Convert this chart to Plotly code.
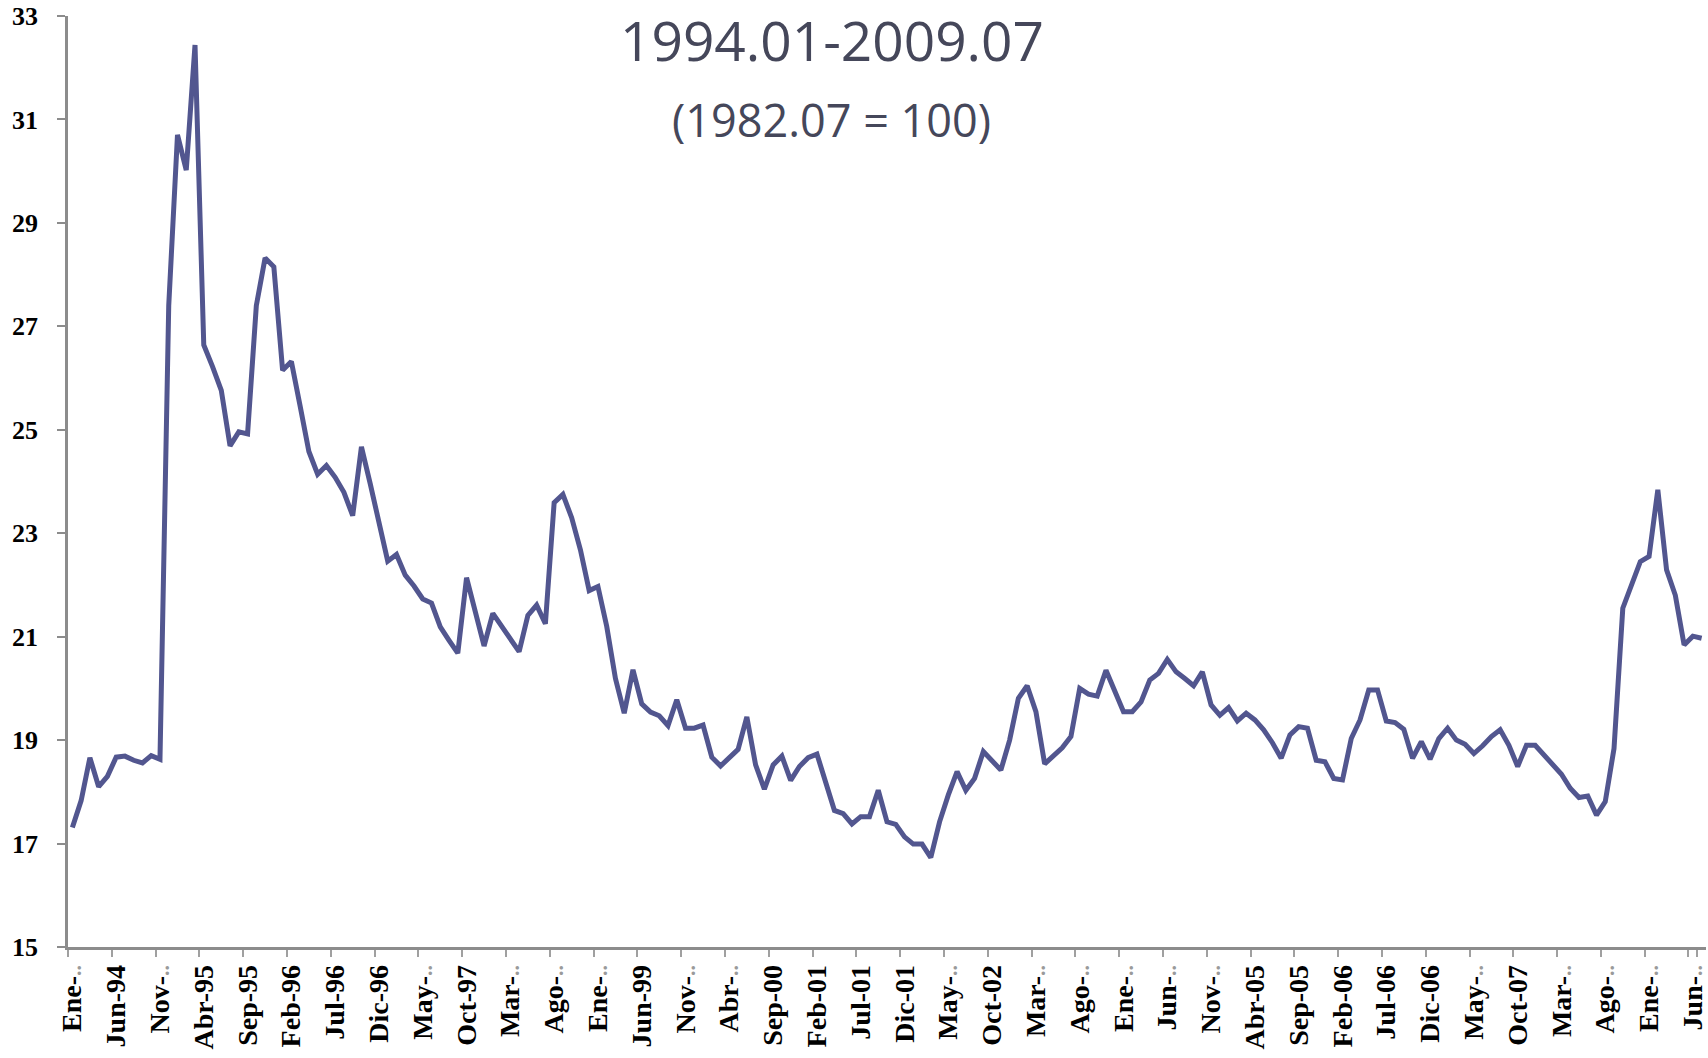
import plotly.graph_objects as go

month_abbr = ["Ene", "Feb", "Mar", "Abr", "May", "Jun", "Jul", "Ago", "Sep", "Oct", "Nov", "Dic"]

v1994 = [17.31, 17.83, 18.66, 18.10, 18.30, 18.67, 18.69, 18.61, 18.56, 18.70, 18.63, 27.40]
v1995 = [30.70, 30.02, 32.44, 26.64, 26.22, 25.76, 24.69, 24.96, 24.92, 27.40, 28.32, 28.15]
v1996 = [26.15, 26.32, 25.46, 24.58, 24.14, 24.31, 24.08, 23.79, 23.34, 24.67, 23.96, 23.20]
v1997 = [22.46, 22.59, 22.19, 21.98, 21.73, 21.65, 21.19, 20.93, 20.68, 22.14, 21.50, 20.82]
v1998 = [21.45, 21.20, 20.95, 20.71, 21.41, 21.61, 21.25, 23.59, 23.75, 23.30, 22.68, 21.89]
v1999 = [21.97, 21.20, 20.19, 19.52, 20.36, 19.70, 19.54, 19.47, 19.28, 19.78, 19.23, 19.23]
v2000 = [19.29, 18.67, 18.50, 18.66, 18.82, 19.45, 18.52, 18.05, 18.52, 18.69, 18.22, 18.49]
v2001 = [18.66, 18.73, 18.18, 17.64, 17.58, 17.38, 17.52, 17.52, 18.03, 17.42, 17.37, 17.13]
v2002 = [16.99, 16.99, 16.73, 17.42, 17.94, 18.39, 18.03, 18.26, 18.78, 18.60, 18.42, 19.00]
v2003 = [19.81, 20.05, 19.55, 18.54, 18.68, 18.85, 19.07, 20.00, 19.89, 19.85, 20.35, 19.94]
v2004 = [19.55, 19.55, 19.74, 20.16, 20.29, 20.56, 20.32, 20.19, 20.05, 20.32, 19.68, 19.48]
v2005 = [19.63, 19.37, 19.52, 19.39, 19.20, 18.95, 18.65, 19.10, 19.26, 19.23, 18.61, 18.58]
v2006 = [18.26, 18.23, 19.03, 19.39, 19.97, 19.97, 19.37, 19.34, 19.21, 18.65, 18.97, 18.63]
v2007 = [19.03, 19.23, 19.00, 18.92, 18.74, 18.89, 19.07, 19.20, 18.90, 18.49, 18.90, 18.90]
v2008 = [18.71, 18.54, 18.34, 18.07, 17.89, 17.92, 17.55, 17.81, 18.84, 21.55, 22.03, 22.45]
v2009 = [22.55, 23.84, 22.29, 21.80, 20.84, 21.01, 20.97]

yearly = [v1994, v1995, v1996, v1997, v1998, v1999, v2000, v2001,
          v2002, v2003, v2004, v2005, v2006, v2007, v2008, v2009]
years = list(range(1994, 2010))

months = []
values = []
for yr, vals in zip(years, yearly):
    for m, v in enumerate(vals):
        months.append(f"{month_abbr[m]}-{yr % 100:02d}")
        values.append(v)

E = "<span style='color:#9a9a9a;font-size:22px'>..</span>"
tick_labels = ["Ene-" + E, "Jun-94", "Nov-" + E, "Abr-95", "Sep-95", "Feb-96", "Jul-96", "Dic-96",
               "May-" + E, "Oct-97", "Mar-" + E, "Ago-" + E, "Ene-" + E, "Jun-99", "Nov-" + E,
               "Abr-" + E, "Sep-00", "Feb-01", "Jul-01", "Dic-01", "May-" + E, "Oct-02", "Mar-" + E,
               "Ago-" + E, "Ene-" + E, "Jun-" + E, "Nov-" + E, "Abr-05", "Sep-05", "Feb-06",
               "Jul-06", "Dic-06", "May-" + E, "Oct-07", "Mar-" + E, "Ago-" + E, "Ene-" + E, "Jun-" + E]
tick_positions = months[::5]

y_ticks = list(range(15, 34, 2))

title_text = "1994.01-2009.07"
subtitle_text = "(1982.07 = 100)"

fig = go.Figure()
fig.add_trace(go.Scatter(
    x=months, y=values, mode="lines",
    line=dict(color="#52568f", width=5),
    hoverinfo="x+y", showlegend=False,
))

fig.update_layout(
    width=1708, height=1058,
    margin=dict(l=68, r=2, t=16, b=111),
    paper_bgcolor="white", plot_bgcolor="white",
    xaxis=dict(
        type="category",
        range=[-0.5, len(months) - 0.5],
        tickmode="array", tickvals=tick_positions, ticktext=tick_labels,
        tickson="boundaries",
        ticks="outside", ticklen=7, tickwidth=2, tickcolor="#a0a0a0",
        showline=True, linecolor="#8c8c8c", linewidth=2.5,
        showgrid=False, zeroline=False,
        tickangle=-90,
        ticklabelstandoff=4,
        automargin=False,
        tickfont=dict(family="Liberation Serif", size=28, color="black", weight="bold"),
    ),
    yaxis=dict(
        range=[15, 33], tickmode="array", tickvals=y_ticks,
        ticks="outside", ticklen=8, tickwidth=2, tickcolor="#8c8c8c",
        showline=True, linecolor="#8c8c8c", linewidth=2.5,
        showgrid=False, zeroline=False,
        automargin=False,
        ticklabeloverflow="allow",
        tickfont=dict(family="Liberation Serif", size=26, color="black", weight="bold"),
        ticklabelstandoff=14,
    ),
    annotations=[
        dict(text=title_text, xref="paper", yref="paper", x=0.4663, y=0.9745,
             xanchor="center", yanchor="middle", showarrow=False,
             font=dict(family="Open Sans", size=55, color="#45475a")),
        dict(text=subtitle_text, xref="paper", yref="paper", x=0.4663, y=0.8887,
             xanchor="center", yanchor="middle", showarrow=False,
             font=dict(family="Open Sans", size=45, color="#45475a")),
    ],
)

fig.write_html("out.html", config={"displayModeBar": False},
               post_script="document.body.style.margin='0px';")
